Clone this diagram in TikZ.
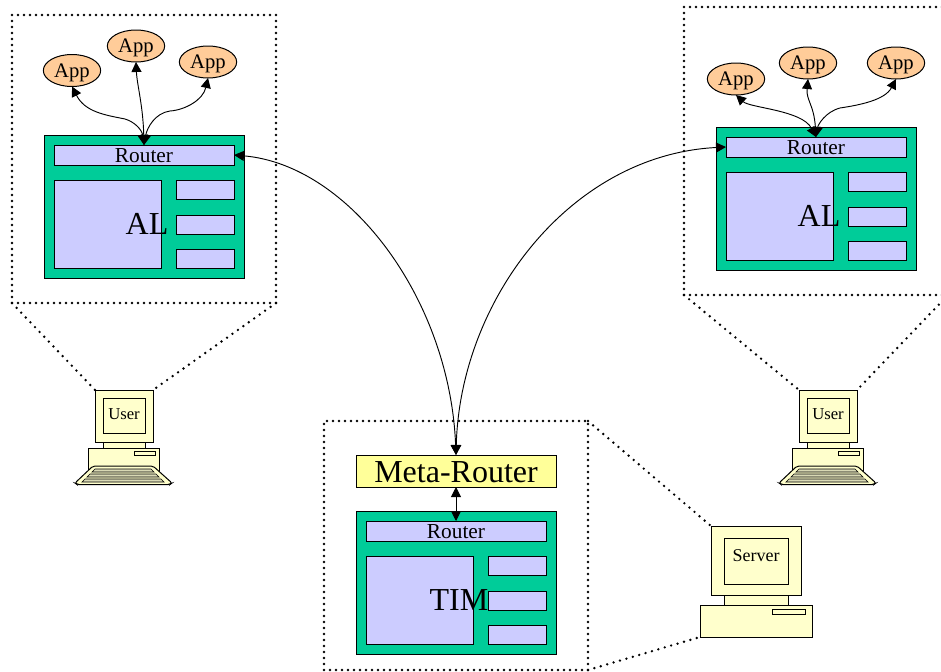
\documentclass[tikz,border=0pt]{standalone}
\usepackage{fontspec}
\setmainfont{Liberation Serif}
\usetikzlibrary{arrows.meta,shapes.geometric}
\definecolor{stackgreen}{HTML}{00CC99}
\definecolor{boxblue}{HTML}{CCCCFF}
\definecolor{metayellow}{HTML}{FFFF99}
\definecolor{apporange}{HTML}{FFCC99}
\definecolor{pcyellow}{HTML}{FFFFCC}
\tikzset{
  box/.style={draw, inner sep=0pt, outer sep=0pt, line width=0.75pt},
  stackbox/.style={box, fill=stackgreen, minimum width=150pt, minimum height=107.25pt},
  routerbox/.style={box, fill=boxblue, minimum width=135pt, minimum height=15pt, text height=12pt, font=\fontsize{16}{17}\selectfont},
  bigbox/.style={box, fill=boxblue, minimum width=80.25pt, minimum height=66pt},
  smallbox/.style={box, fill=boxblue, minimum width=43.5pt, minimum height=14.25pt},
  bigtext/.style={inner sep=0pt, font=\fontsize{24}{26}\selectfont},
  appnode/.style={box, ellipse, fill=apporange, minimum width=43pt, minimum height=24pt, text depth=0pt, font=\fontsize{15.5}{16}\selectfont},
  framebox/.style={inner sep=0pt, outer sep=0pt, draw, line width=2pt, line cap=round, dash pattern=on 0pt off 4.5pt},
  zoomline/.style={line width=2pt, line cap=round, dash pattern=on 0pt off 5pt},
  pcpart/.style={box, fill=pcyellow},
  link/.style={line width=0.7pt, <->, >={Triangle[length=7.5pt,width=7.5pt]}},
}
\begin{document}
\begin{tikzpicture}[x=0.75pt, y=-0.75pt]
\useasboundingbox (0,0) rectangle (941,671);

% frames
\node[framebox, minimum width=198pt, minimum height=216pt] (frameL) at (144,159) {};
\node[framebox, minimum width=198pt, minimum height=216pt] (frameR) at (816,151) {};
\node[framebox, minimum width=198pt, minimum height=186.75pt] (frameC) at (456,545.5) {};

% left stack
\node[stackbox] (stackL) at (144,206.5) {};
\node[routerbox] (routerL) at (144,155) {Router};
\node[bigbox] (boxL) at (107.5,224) {};
\node[smallbox] (smallLa) at (205,189.5) {};
\node[smallbox] (smallLb) at (205,224.5) {};
\node[smallbox] (smallLc) at (205,258.5) {};
\node[bigtext] (textL) at (147,224) {AL};
\node[appnode] (appLa) at (72,70.5) {App};
\node[appnode] (appLb) at (136,46) {App};
\node[appnode] (appLc) at (208,62) {App};

% right stack
\node[stackbox] (stackR) at (816,198.5) {};
\node[routerbox] (routerR) at (816,147) {Router};
\node[bigbox] (boxR) at (779.5,216) {};
\node[smallbox] (smallRa) at (877,181.5) {};
\node[smallbox] (smallRb) at (877,216.5) {};
\node[smallbox] (smallRc) at (877,250.5) {};
\node[bigtext] (textR) at (819,216) {AL};
\node[appnode] (appRa) at (736,79) {App};
\node[appnode] (appRb) at (808,63) {App};
\node[appnode] (appRc) at (896,63) {App};

% center stack
\node[stackbox] (stackC) at (456,582.5) {};
\node[routerbox] (routerC) at (456,531) {Router};
\node[bigbox] (boxC) at (419.5,600) {};
\node[smallbox] (smallCa) at (517,565.5) {};
\node[smallbox] (smallCb) at (517,600.5) {};
\node[smallbox] (smallCc) at (517,634.5) {};
\node[bigtext] (textC) at (459,600) {TIM};
\node[box, fill=metayellow, minimum width=150pt, minimum height=24pt, text height=17.5pt, font=\fontsize{24}{26}\selectfont] (meta) at (456,471) {Meta-Router};

% left computer
\node[pcpart, minimum width=43.5pt, minimum height=39pt] (monitorL) at (124,416) {};
\node[pcpart, minimum width=31.5pt, minimum height=26.25pt, text depth=1.5pt, font=\fontsize{12.5}{14}\selectfont] (screenL) at (124,415.5) {User};
\draw[pcpart] (103,442) rectangle (145,448);
\node[pcpart, minimum width=53.25pt, minimum height=17.25pt] (baseL) at (123.5,459.5) {};
\draw[pcpart] (134,451) rectangle (155,455);
\draw[pcpart, rounded corners=1.5pt] (93,466) -- (153,466) -- (172,483) -- (170,484.5) -- (77,484.5) -- (75,483) -- cycle;
\draw[pcpart, fill=pcyellow!70!gray, line width=0.5pt] (95,469) -- (151,469) -- (154,472) -- (92,472) -- cycle;
\draw[pcpart, fill=pcyellow!70!gray, line width=0.5pt] (90,474) -- (156,474) -- (159,477) -- (87,477) -- cycle;
\draw[pcpart, fill=pcyellow!70!gray, line width=0.5pt] (85,479) -- (161,479) -- (164,482) -- (82,482) -- cycle;

% right computer
\node[pcpart, minimum width=43.5pt, minimum height=39pt] (monitorR) at (828,416) {};
\node[pcpart, minimum width=31.5pt, minimum height=26.25pt, text depth=1.5pt, font=\fontsize{12.5}{14}\selectfont] (screenR) at (828,415.5) {User};
\draw[pcpart] (807,442) rectangle (849,448);
\node[pcpart, minimum width=53.25pt, minimum height=17.25pt] (baseR) at (827.5,459.5) {};
\draw[pcpart] (838,451) rectangle (859,455);
\draw[pcpart, rounded corners=1.5pt] (797,466) -- (857,466) -- (876,483) -- (874,484.5) -- (781,484.5) -- (779,483) -- cycle;
\draw[pcpart, fill=pcyellow!70!gray, line width=0.5pt] (799,469) -- (855,469) -- (858,472) -- (796,472) -- cycle;
\draw[pcpart, fill=pcyellow!70!gray, line width=0.5pt] (794,474) -- (860,474) -- (863,477) -- (791,477) -- cycle;
\draw[pcpart, fill=pcyellow!70!gray, line width=0.5pt] (789,479) -- (865,479) -- (868,482) -- (786,482) -- cycle;

% server
\node[pcpart, minimum width=67.5pt, minimum height=51.75pt] (monitorS) at (756,560.5) {};
\node[pcpart, minimum width=48pt, minimum height=34.5pt, text depth=7.5pt, font=\fontsize{13.5}{15}\selectfont] (screenS) at (756,561) {Server};
\draw[pcpart] (724,595) rectangle (788,605);
\node[pcpart, minimum width=84pt, minimum height=24pt] (baseS) at (756,621) {};
\draw[pcpart] (772,609.5) rectangle (805,614);

% dotted lines
\draw[zoomline] (frameL.south west) -- (monitorL.north west);
\draw[zoomline] (frameL.south east) -- (monitorL.north east);
\draw[zoomline] (frameR.south west) -- (monitorR.north west);
\draw[zoomline] (frameR.south east) -- (monitorR.north east);
\draw[zoomline] (frameC.north east) -- (monitorS.north west);
\draw[zoomline] (frameC.south east) -- (baseS.south west);

% arrows
\draw[link] (appLa.south) .. controls (85,112) and (105,115) .. (125,119) .. controls (135,122) and (142,130) .. (routerL.north);
\draw[link] (appLb.south) .. controls (137,85) and (143,105) .. (routerL.north);
\draw[link] (appLc.south) .. controls (203,100) and (185,110) .. (170,111) .. controls (155,113) and (147,128) .. (routerL.north);
\draw[link] (appRa.south) .. controls (750,108) and (802,110) .. (routerR.north);
\draw[link] (appRb.south) .. controls (806,100) and (814,105) .. (routerR.north);
\draw[link] (appRc.south) .. controls (885,100) and (860,105) .. (840,108) .. controls (825,112) and (818,125) .. (routerR.north);
\draw[link] (routerL.east) .. controls (350,165) and (450,300) .. (meta.north);
\draw[link] (routerR.west) .. controls (570,155) and (460,300) .. (meta.north);
\draw[link] (meta.south) -- (routerC.north);
\end{tikzpicture}
\end{document}
